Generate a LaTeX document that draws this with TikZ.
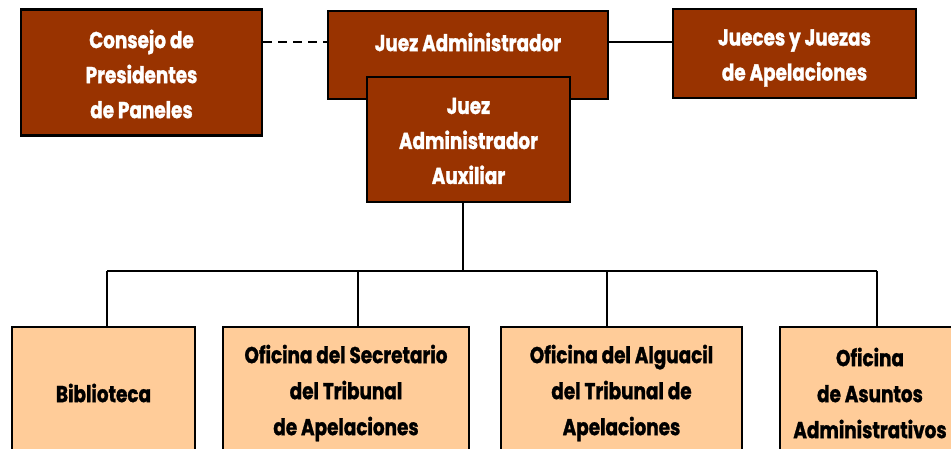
\documentclass[tikz,border=0pt]{standalone}
\usepackage{fontspec}
\newfontfamily\orgfont{Poppins}[FakeStretch=0.8,FakeBold=1.2]
\definecolor{darkbox}{HTML}{993300}
\definecolor{lightbox}{HTML}{FFCC99}
\begin{document}
\begin{tikzpicture}[x=1pt,y=-1pt,
  dbox/.style={draw=black,line width=2.6pt,fill=darkbox,inner sep=0pt},
  lbox/.style={draw=black,line width=2.6pt,fill=lightbox,inner sep=0pt},
  wtxt/.style={text=white,font=\orgfont\bfseries\fontsize{23}{35}\selectfont,align=center,inner sep=0pt},
  btxt/.style={text=black,font=\orgfont\bfseries\fontsize{23}{36}\selectfont,align=center,inner sep=0pt},
  conn/.style={line width=2.4pt,draw=black},
  dconn/.style={line width=2.4pt,draw=black,dash pattern=on 9pt off 6pt}]
\useasboundingbox (0,0) rectangle (951,448);
\clip (0,0) rectangle (951,448);
\fill[white] (0,0) rectangle (951,448);
% top boxes
\node[dbox,minimum width=241pt,minimum height=126pt] (consejo) at (141.5,72.5) {};
\node[wtxt] (consejot) at (141.5,74) {Consejo de\\Presidentes\\de Paneles};
\node[dbox,minimum width=280pt,minimum height=88pt] (ja) at (468,55) {};
\node[wtxt] (jat) at (468,42) {Juez Administrador};
\node[dbox,minimum width=203pt,minimum height=125pt] (aux) at (468.5,139.5) {};
\node[wtxt] (auxt) at (468.5,141) {Juez\\Administrador\\Auxiliar};
\node[dbox,minimum width=243pt,minimum height=89pt] (jueces) at (794.5,53.5) {};
\node[wtxt] (juecest) at (794.5,58) {Jueces y Juezas\\de Apelaciones};
% bottom boxes
\node[lbox,minimum width=183pt,minimum height=130pt] (bib) at (103.5,392) {};
\node[btxt] (bibt) at (103.5,393) {Biblioteca};
\node[lbox,minimum width=246pt,minimum height=130pt] (sec) at (346,392) {};
\node[btxt] (sect) at (346,393) {Oficina del Secretario\\del Tribunal\\de Apelaciones};
\node[lbox,minimum width=241pt,minimum height=130pt] (alg) at (621.5,392) {};
\node[btxt] (algt) at (621.5,393) {Oficina del Alguacil\\del Tribunal de\\Apelaciones};
\node[lbox,minimum width=194pt,minimum height=130pt] (asu) at (877,392) {};
\node[btxt] (asut) at (870,393) {Oficina\\de Asuntos\\Administrativos};
% connectors
\draw[dconn] (consejo.east |- jat) -- (ja.west |- jat);
\draw[conn] (ja.east |- jat) -- (jueces.west |- jat);
\coordinate (busc) at (463,271);
\coordinate (busl) at (107,271);
\coordinate (busr) at (877,271);
\coordinate (bus2) at (358,271);
\coordinate (bus3) at (607,271);
\draw[conn] (aux.south -| busc) -- (busc);
\draw[conn] (busl) -- (busr);
\draw[conn] (busl) -- (busl |- bib.north);
\draw[conn] (bus2) -- (bus2 |- sec.north);
\draw[conn] (bus3) -- (bus3 |- alg.north);
\draw[conn] (busr) -- (busr |- asu.north);
\end{tikzpicture}
\end{document}
